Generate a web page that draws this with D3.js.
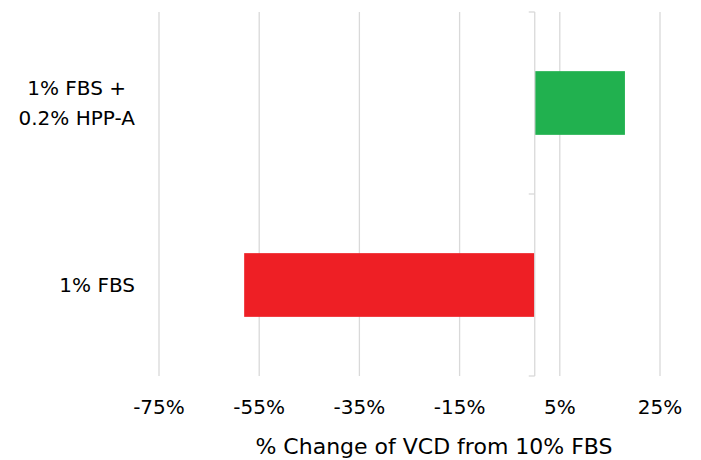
<!DOCTYPE html>
<html><head><meta charset="utf-8">
<script src="https://cdn.jsdelivr.net/npm/d3@7"></script>
<style>body{margin:0;background:#fff}svg{display:block}text{font-family:"DejaVu Sans",sans-serif;fill:#000}</style>
</head><body><svg id="c" width="701" height="460"></svg>
<script>
const categories = [["1% FBS +", "0.2% HPP-A"], ["1% FBS"]];
const values = [18.0, -58.0];
const colors = ["#21b14f", "#ee1f25"];
const tickValues = [-75, -55, -35, -15, 5, 25];
const axisTitle = "% Change of VCD from 10% FBS";

const svg = d3.select("#c");
const x = d3.scaleLinear().domain([-75, 25]).range([159, 660]);
const y = d3.scaleBand().domain(d3.range(categories.length)).range([12, 376]).paddingInner(0).paddingOuter(0);
const barFrac = 0.35;

// gridlines
svg.append("g").selectAll("line").data(tickValues).join("line")
  .attr("x1", d => x(d)).attr("x2", d => x(d))
  .attr("y1", 12).attr("y2", 376)
  .attr("stroke", "#d9d9d9").attr("stroke-width", 1.3);

// bars
svg.append("g").selectAll("rect").data(values).join("rect")
  .attr("x", d => Math.min(x(0), x(d)))
  .attr("width", d => Math.abs(x(d) - x(0)))
  .attr("y", (d, i) => y(i) + y.bandwidth() * (1 - barFrac) / 2)
  .attr("height", y.bandwidth() * barFrac)
  .attr("fill", (d, i) => colors[i]);

// category axis at zero
const yAxis = svg.append("g").attr("transform", `translate(${x(0)},0)`);
yAxis.append("line").attr("x1", 0).attr("x2", 0).attr("y1", 12).attr("y2", 376)
  .attr("stroke", "#d9d9d9").attr("stroke-width", 1.3);
const tickYs = [12, ...d3.range(categories.length).map(i => y(i) + y.step())];
yAxis.selectAll("line.t").data(tickYs).join("line").attr("class", "t")
  .attr("x1", -6).attr("x2", 0).attr("y1", d => d).attr("y2", d => d)
  .attr("stroke", "#d9d9d9").attr("stroke-width", 1.3);

// category labels
const lab = svg.append("g");
categories.forEach((lines, i) => {
  const arr = Array.isArray(lines) ? lines : [lines];
  const cy = y(i) + y.bandwidth() / 2;
  const lh = 30;
  const t = lab.append("text").attr("font-size", 20).attr("text-anchor", "middle");
  arr.forEach((s, k) => {
    t.append("tspan").attr("x", 0).attr("y", cy + (k - (arr.length - 1) / 2) * lh).attr("dy", "0.35em").text(s);
  });
  const w = t.node().getBBox().width;
  t.attr("transform", `translate(${135 - w / 2},0)`);
});

// x tick labels
svg.append("g").selectAll("text").data(tickValues).join("text")
  .attr("x", d => x(d)).attr("y", 414).attr("text-anchor", "middle").attr("font-size", 20)
  .text(d => d + "%");

svg.append("text").attr("x", 434).attr("y", 454).attr("text-anchor", "middle").attr("font-size", 22)
  .text(axisTitle);
</script></body></html>
